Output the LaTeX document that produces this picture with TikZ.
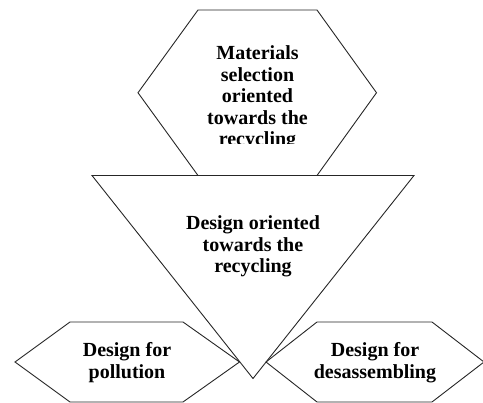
\documentclass[tikz,border=0pt]{standalone}
\usepackage{fontspec}
\setmainfont{Liberation Serif}
\begin{document}
\begin{tikzpicture}[x=1pt,y=-1pt,
  outline/.style={draw=black!85,line width=0.9pt,line join=miter},
  label/.style={align=center,inner sep=0pt,
    font=\bfseries\fontsize{20}{21.5}\selectfont}]
\useasboundingbox (0,0) rectangle (483,403);

% top hexagon: materials selection
\draw[outline] (198,10) -- (317,10) -- (376.5,92.75) -- (317,175.5)
  -- (198,175.5) -- (138,92.75) -- cycle;
\begin{scope}
  \clip (0,0) rectangle (483,143.5);
  \node[label] (materials) at (257.5,98)
    {Materials\\selection\\oriented\\towards the\\recycling};
\end{scope}

% inverted triangle: design oriented towards the recycling
\draw[outline] (92,175.5) -- (414,175.5) -- (253,378.5) -- cycle;
\node[label] (design) at (253,246.5)
  {Design oriented\\towards the\\recycling};

% lower left hexagon
\draw[outline] (70,322) -- (183,322) -- (239.5,362) -- (183,402)
  -- (70,402) -- (15,362) -- cycle;
\node[label] (pollution) at (127,362.5) {Design for\\pollution};

% lower right hexagon
\draw[outline] (317,322) -- (432,322) -- (484,362) -- (432,402)
  -- (317,402) -- (266,362) -- cycle;
\node[label] (desassembling) at (375,362.5) {Design for\\desassembling};
\end{tikzpicture}
\end{document}
